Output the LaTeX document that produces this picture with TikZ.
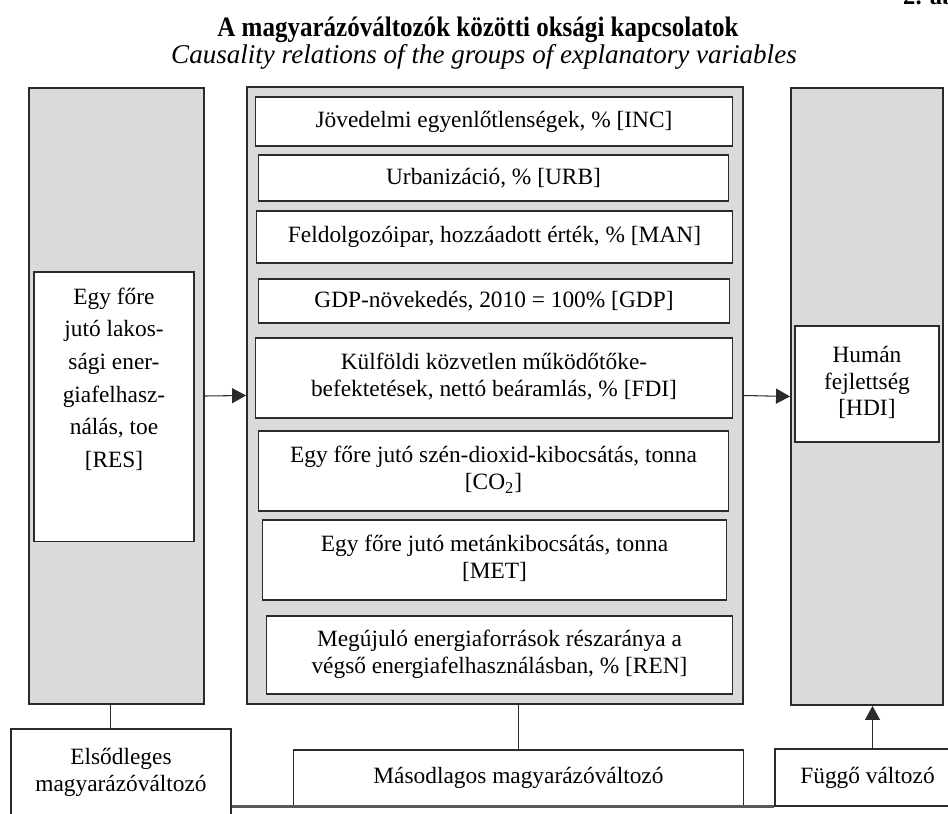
\documentclass[tikz,border=0pt]{standalone}
\usepackage{fontspec}
\setmainfont{Liberation Serif}
\usetikzlibrary{arrows.meta}
\definecolor{panel}{HTML}{D9DADB}
\definecolor{edge}{HTML}{2B2B2B}
\newcommand{\rowstrut}{\vrule width 0pt height 10.3pt depth 4.5pt}
\newcommand{\lnbr}{\\\rowstrut}
\newcommand{\lblbr}{\\[3.3pt]}
\tikzset{
  groupbox/.style={draw=edge, line width=1.1pt, fill=panel, inner sep=0pt},
  varbox/.style={draw=edge, line width=0.6pt, fill=white, align=center, inner sep=0pt},
  legendbox/.style={draw=edge, line width=0.6pt, fill=white, align=center, inner sep=0pt},
  link/.style={draw=edge, line width=0.6pt},
  causal/.style={link, -{Triangle[length=0.28cm,width=0.3cm]}},
  baseline rule/.style={draw=black!65, line width=1.2pt},
}

\begin{document}
\begin{tikzpicture}[x=0.02cm, y=-0.02cm, font=\fontsize{13.3}{15.3}\selectfont]
  \useasboundingbox (0,0) rectangle (948,814);

  % titles
  \node[anchor=base west, font=\fontsize{14}{16}\selectfont\bfseries] (fig) at (897,5) {2. ábra};
  \node[font=\fontsize{16}{18}\selectfont\bfseries] (title) at (478,30) {\scalebox{0.89}[1]{A magyarázóváltozók közötti oksági kapcsolatok}};
  \node[font=\fontsize{15.4}{18}\selectfont\itshape] (subtitle) at (484,57) {Causality relations of the groups of explanatory variables};

  % the three groups
  \node[groupbox, minimum width=3.5cm, minimum height=12.32cm] (resbg) at (116.5,396) {};
  \node[groupbox, minimum width=9.92cm, minimum height=12.34cm] (midbg) at (495,395.5) {};
  \node[groupbox, minimum width=3.04cm, minimum height=12.34cm] (hdibg) at (867,396.5) {};

  % primary and dependent variable
  \node[varbox, minimum width=3.2cm, minimum height=5.4cm,
        label={[align=center, anchor=north, yshift=-0.2cm]north:Egy főre\lblbr jutó lakos-\lblbr sági ener-\lblbr giafelhasz-\lblbr nálás, toe\lblbr {[RES]}}] (res) at (114,407) {};
  \node[varbox, minimum width=2.88cm, minimum height=2.32cm] (hdi) at (867,384) {\rowstrut Humán\lnbr fejlettség\lnbr {[HDI]}};

  % secondary variables
  \node[varbox, minimum width=9.56cm, minimum height=0.98cm] (inc) at (494,121.5) {Jövedelmi egyenlőtlenségek, \% [INC]};
  \node[varbox, minimum width=9.42cm, minimum height=0.92cm] (urb) at (493.5,178) {Urbanizáció, \% [URB]};
  \node[varbox, minimum width=9.54cm, minimum height=1.04cm] (man) at (494.5,237) {Feldolgozóipar, hozzáadott érték, \% [MAN]};
  \node[varbox, minimum width=9.44cm, minimum height=0.88cm] (gdp) at (494,301) {GDP-növekedés, 2010 = 100\% [GDP]};
  \node[varbox, minimum width=9.56cm, minimum height=1.6cm] (fdi) at (494,378) {\rowstrut Külföldi közvetlen működőtőke-\lnbr befektetések, nettó beáramlás, \% [FDI]};
  \node[varbox, minimum width=9.42cm, minimum height=1.6cm] (co2) at (493.5,471) {\rowstrut Egy főre jutó szén-dioxid-kibocsátás, tonna\lnbr {[CO\textsubscript{2}]}};
  \node[varbox, minimum width=9.3cm, minimum height=1.6cm] (met) at (494.5,560) {\rowstrut Egy főre jutó metánkibocsátás, tonna\lnbr {[MET]}};
  \node[varbox, minimum width=9.34cm, minimum height=1.56cm] (ren) at (499.5,655) {\rowstrut Megújuló energiaforrások részaránya a\lnbr végső energiafelhasználásban, \% [REN]};

  % legend boxes
  \node[legendbox, minimum width=4.4cm, minimum height=1.74cm] (elso) at (121,772.5) {\rowstrut Elsődleges\lnbr magyarázóváltozó};
  \node[legendbox, minimum width=9.02cm, minimum height=1.12cm] (masod) at (518.5,778) {Másodlagos magyarázóváltozó};
  \node[legendbox, minimum width=3.7cm, minimum height=1.14cm] (fuggo) at (867.5,777.5) {Függő változó};

  % connectors
  \draw[causal] (resbg.east) -- (midbg.west);
  \draw[causal] (midbg.east) -- (hdibg.west);
  \draw[link] ([xshift=-0.12cm]resbg.south) -- ([xshift=-0.12cm]resbg.south |- elso.north);
  \draw[link] (masod.north) -- (masod.north |- midbg.south);
  \draw[causal] ([xshift=0.1cm]fuggo.north) -- ([xshift=0.1cm]fuggo.north |- hdibg.south);
  \draw[baseline rule] (fuggo.south west) -- (fuggo.south west -| elso.east);
\end{tikzpicture}
\end{document}
